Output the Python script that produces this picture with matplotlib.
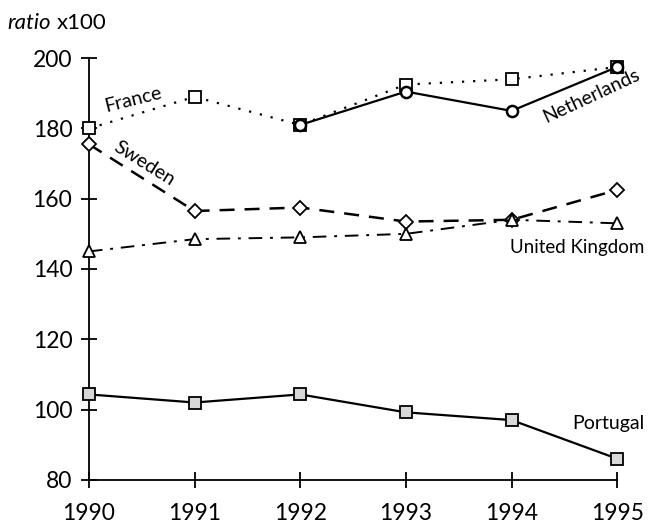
import matplotlib.pyplot as plt

plt.rcParams['font.family'] = ['Lato', 'DejaVu Sans']

years = [1990, 1991, 1992, 1993, 1994, 1995]
france = [180, 189, 181, 192.5, 194, 197.5]
netherlands_years = [1992, 1993, 1994, 1995]
netherlands = [181, 190.5, 185, 197.5]
sweden = [175.5, 156.5, 157.5, 153.5, 154, 162.5]
uk = [145, 148.5, 149, 150, 154, 153]
portugal = [104.3, 102, 104.3, 99.2, 97, 86]

fig = plt.figure(figsize=(6.49, 5.29), dpi=100)
ax = fig.add_axes([0.137, 0.093, 0.814, 0.797])

ms = 9
ax.plot(years, france, ls=(0, (1, 4)), lw=1.6, color='black', marker='s', ms=ms,
        mfc='white', mec='black', mew=1.3, clip_on=False, zorder=3)
ax.plot(netherlands_years, netherlands, ls='-', lw=1.6, color='black', marker='o', ms=8,
        mfc='white', mec='black', mew=1.8, clip_on=False, zorder=4)
ax.plot(years, sweden, ls=(0, (6, 4)), lw=1.8, color='black', marker='D', ms=7.5,
        mfc='white', mec='black', mew=1.3, clip_on=False, zorder=3)
ax.plot(years, uk, ls=(0, (7, 4, 1.5, 4)), lw=1.4, color='black', marker='^', ms=9,
        mfc='white', mec='black', mew=1.3, clip_on=False, zorder=3)
ax.plot(years, portugal, ls='-', lw=1.6, color='black', marker='s', ms=ms,
        mfc='#d8d8d8', mec='black', mew=1.3, clip_on=False, zorder=3)

ax.set_xlim(1990, 1995)
ax.set_ylim(80, 200)
ax.set_xticks(years)
ax.set_yticks(range(80, 201, 20))
for s in ['top', 'right']:
    ax.spines[s].set_visible(False)
for s in ['left', 'bottom']:
    ax.spines[s].set_linewidth(1.3)
ax.tick_params(direction='inout', length=12, width=1.3, labelsize=16.5)
ax.tick_params(axis='x', pad=11)
ax.tick_params(axis='y', pad=6)

# series labels
ax.text(1990.42, 188.3, 'France', fontsize=14, rotation=14, ha='center', va='center')
ax.text(1990.52, 170, 'Sweden', fontsize=14, rotation=-32, ha='center', va='center')
ax.text(1994.76, 189.2, 'Netherlands', fontsize=14, rotation=25, ha='center', va='center')
ax.text(1994.62, 146, 'United Kingdom', fontsize=13.5, ha='center', va='center')
ax.text(1994.92, 96, 'Portugal', fontsize=14, ha='center', va='center')

fig.text(0.012, 0.957, 'ratio', fontsize=16, style='italic', va='center')
fig.text(0.087, 0.957, 'x100', fontsize=16, va='center')

fig.savefig('out.png', dpi=100)
